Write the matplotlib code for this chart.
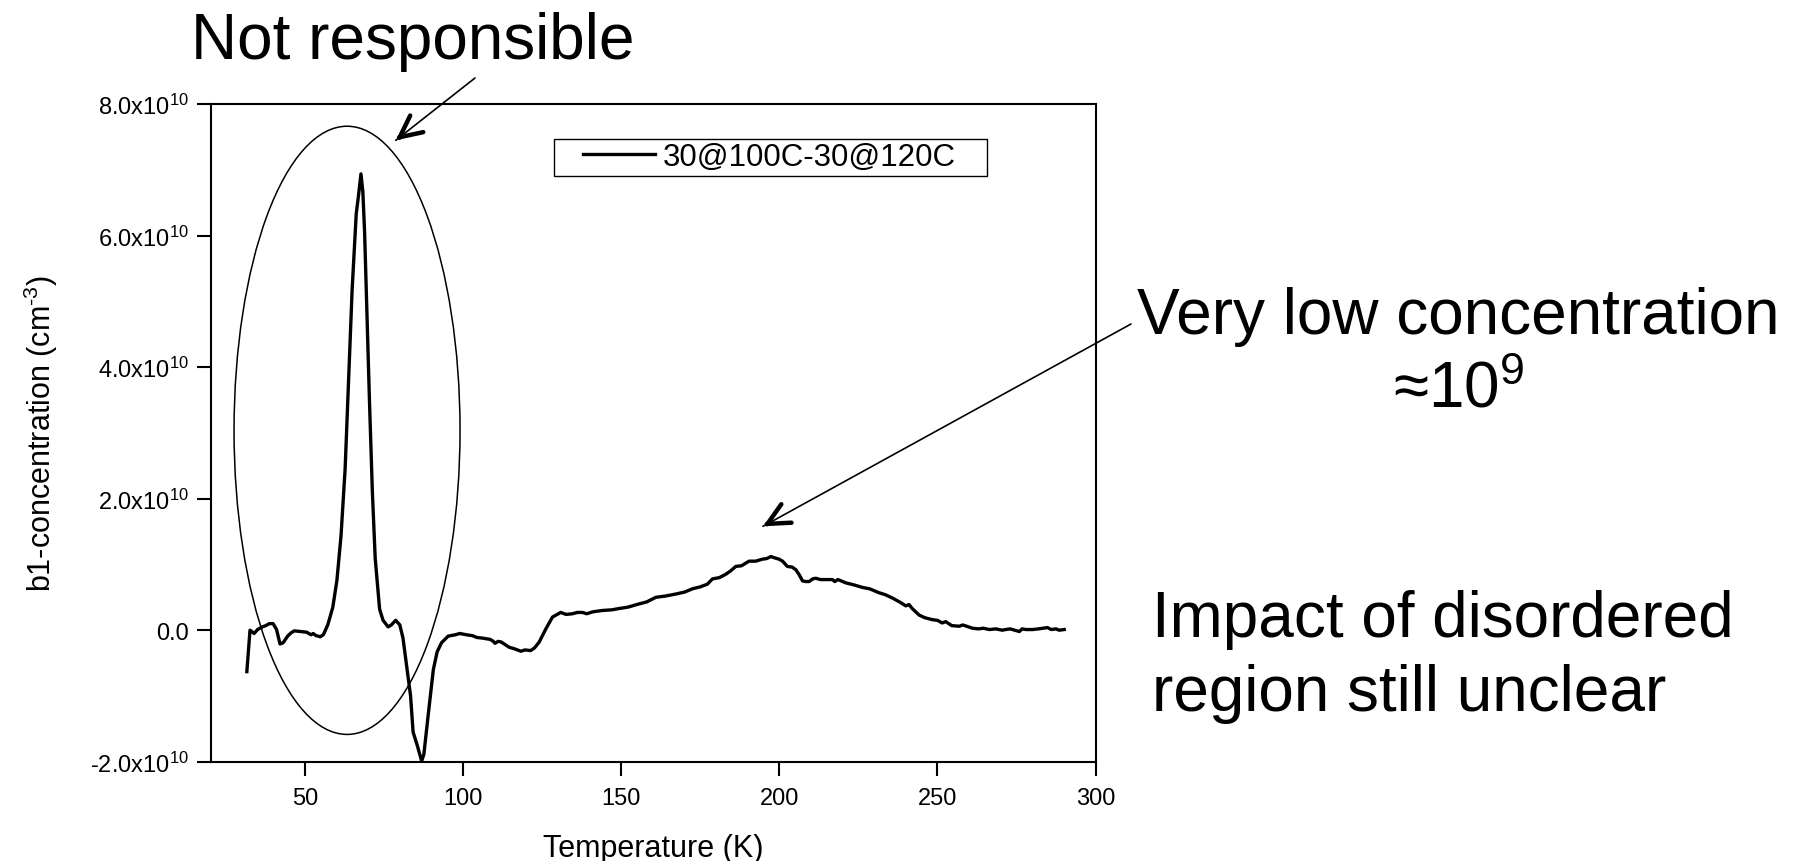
import numpy as np
import matplotlib
matplotlib.use("Agg")
import matplotlib.pyplot as plt
from matplotlib.patches import Ellipse, Rectangle
from matplotlib.ticker import FuncFormatter, FixedLocator

plt.rcParams['font.family'] = ['Liberation Sans', 'DejaVu Sans']
plt.rcParams['mathtext.fontset'] = 'custom'
plt.rcParams['mathtext.rm'] = 'Liberation Sans'
plt.rcParams['mathtext.it'] = 'Liberation Sans:italic'
plt.rcParams['mathtext.bf'] = 'Liberation Sans:bold'
plt.rcParams['mathtext.default'] = 'regular'

# ---- data (temperature in K, concentration in units of 1e10 cm^-3) ----
temperature = [31.5, 32.5, 33.8, 34.9, 36.4, 37.5, 38.6, 39.8, 40.9, 42.0, 43.0, 44.4, 45.5, 46.5,
               48.6, 50.4, 51.8, 52.5, 53.3, 54.7, 55.7, 57.1, 58.7, 60.0, 61.3, 62.6, 63.7, 64.8,
               66.1, 66.8, 67.6, 68.2, 68.75, 69.5, 70.3, 71.2, 72.1, 73.5, 74.6, 76.2, 77.2, 78.6,
               79.9, 80.9, 82.2, 83.3, 84.1, 85.4, 86.8, 87.5, 88.9, 90.5, 91.7, 93.1, 95.2, 97.4,
               98.9, 100.0, 101.0, 102.9, 104.2, 106.0, 108.5, 109.5, 110.0, 111.0, 112.0, 114.5,
               116.0, 118.2, 119.5, 121.3, 122.5, 124.0, 126.1, 128.2, 130.8, 132.5, 134.5, 136.0,
               137.7, 139.0, 141.0, 144.0, 147.0, 149.3, 152.0, 155.6, 158.0, 160.9, 164.0, 167.2,
               170.0, 172.5, 175.0, 177.2, 178.8, 181.0, 183.0, 184.5, 186.2, 188.0, 190.4, 192.5,
               194.6, 196.0, 197.3, 198.5, 199.9, 201.0, 202.5, 204.0, 205.2, 206.3, 207.3, 208.3,
               209.4, 210.5, 211.5, 213.0, 215.0, 216.8, 217.5, 218.5, 221.0, 223.5, 226.3, 228.5,
               231.5, 233.5, 235.7, 238.0, 240.0, 241.0, 242.0, 244.2, 246.0, 248.4, 250.0, 251.5,
               252.6, 254.5, 256.9, 258.0, 261.1, 263.0, 264.5, 266.4, 268.5, 270.5, 271.6, 273.0,
               275.9, 276.8, 278.0, 280.1, 282.0, 284.8, 286.0, 287.5, 288.5, 290.1]
concentration_e10 = [-0.63, 0.00, -0.05, 0.01, 0.05, 0.07, 0.10, 0.10, 0.01, -0.21, -0.19, -0.09, -0.04, -0.01,
                     -0.02, -0.03, -0.07, -0.05, -0.08, -0.10, -0.07, 0.08, 0.35, 0.76, 1.44, 2.46, 3.82, 5.17,
                     6.33, 6.60, 6.94, 6.67, 6.06, 4.83, 3.48, 2.12, 1.10, 0.32, 0.15, 0.05, 0.08, 0.15,
                     0.08, -0.12, -0.60, -1.00, -1.55, -1.75, -1.99, -1.89, -1.28, -0.60, -0.33, -0.19, -0.09, -0.07,
                     -0.05, -0.06, -0.07, -0.083, -0.11, -0.12, -0.14, -0.17, -0.20, -0.17, -0.18, -0.26,
                     -0.28, -0.32, -0.30, -0.31, -0.27, -0.18, 0.02, 0.20, 0.27, 0.24, 0.25, 0.27,
                     0.27, 0.25, 0.28, 0.30, 0.31, 0.33, 0.35, 0.40, 0.43, 0.50, 0.52, 0.55,
                     0.58, 0.63, 0.66, 0.70, 0.78, 0.80, 0.85, 0.90, 0.97, 0.98, 1.05, 1.05,
                     1.08, 1.09, 1.12, 1.10, 1.08, 1.05, 0.97, 0.96, 0.92, 0.84, 0.75, 0.74,
                     0.74, 0.78, 0.79, 0.77, 0.77, 0.77, 0.74, 0.77, 0.72, 0.69, 0.65, 0.63,
                     0.57, 0.54, 0.49, 0.43, 0.37, 0.39, 0.33, 0.23, 0.19, 0.16, 0.15, 0.11,
                     0.13, 0.07, 0.06, 0.08, 0.03, 0.02, 0.03, 0.01, 0.02, 0.00, 0.01, 0.02,
                     -0.02, 0.02, 0.01, 0.01, 0.02, 0.04, 0.01, 0.02, 0.00, 0.01]
series_label = "30@100C-30@120C"
x_ticks = [50, 100, 150, 200, 250, 300]
y_ticks = [-2e10, 0, 2e10, 4e10, 6e10, 8e10]

W, H, DPI = 1793, 862, 100
fig = plt.figure(figsize=(W / DPI, H / DPI), dpi=DPI)
L, R, T, B = 210.5, 1095.5, 105.2, 762.7
ax = fig.add_axes([L / W, 1 - B / H, (R - L) / W, (B - T) / H])

conc = np.array(concentration_e10) * 1e10
line, = ax.plot(temperature, conc, color='black', lw=2.4, label=series_label)

ax.set_xlim(20, 300)
ax.set_ylim(-2e10, 8e10)
ax.xaxis.set_major_locator(FixedLocator(x_ticks))
ax.yaxis.set_major_locator(FixedLocator(y_ticks))

def yfmt(v, pos):
    if abs(v) < 1:
        return "0.0"
    return f"{v / 1e10:.1f}x10$^{{10}}$"
ax.yaxis.set_major_formatter(FuncFormatter(yfmt))

for s in ax.spines.values():
    s.set_linewidth(1.5)
ax.tick_params(direction='out', length=10, width=1.5, labelsize=17,
               top=False, right=False)
ax.tick_params(axis='x', pad=8.5)
ax.tick_params(axis='y', pad=5.5)
ax.set_xlabel("Temperature (K)", fontsize=22, labelpad=17)
ax.set_ylabel("b1-concentration (cm$^{\u2010 3}$)".replace("\u2010 ", "\u2010"), fontsize=22)
ax.yaxis.set_label_coords(-0.17, 0.5)

# ellipse around the peak
ell = Ellipse((63.2, 3.04e10), 71.5, 9.25e10, fill=False, edgecolor='black', lw=1.1, zorder=3)
ax.add_patch(ell)

# legend with square box
leg = ax.legend(handles=[line], loc='center left', bbox_to_anchor=(583 / W, 1 - 158.3 / H),
                bbox_transform=fig.transFigure, frameon=False, fontsize=22.5,
                handlelength=2.3, handletextpad=0.25, borderpad=0, borderaxespad=0)
fig.add_artist(Rectangle((554 / W, 1 - 176.7 / H), (987 - 554) / W, (176.7 - 139.5) / H,
                         transform=fig.transFigure, fill=False, edgecolor='black', lw=1.0))

# arrows
def arrow(tip, tail_px):
    ax.annotate('', xy=tip, xycoords='data', xytext=(tail_px[0], H - tail_px[1]),
                textcoords='figure pixels',
                arrowprops=dict(arrowstyle='-', lw=1.2, color='black', shrinkA=0, shrinkB=0))
    tip_disp = ax.transData.transform(tip)
    tail_disp = np.array([tail_px[0], H - tail_px[1]])
    u = tail_disp - tip_disp
    u = u / np.hypot(*u)
    start = tip_disp + u * 6
    ax.annotate('', xy=tip, xycoords='data', xytext=start, textcoords='figure pixels',
                arrowprops=dict(arrowstyle='->,head_length=0.78,head_width=0.38', lw=3.2,
                                color='black', shrinkA=0, shrinkB=0, mutation_scale=20))

arrow((78.6, 7.45e10), (475, 79))
arrow((194.8, 1.58e10), (1131, 325))

# texts
fig.text(191 / W, 1 - 59.5 / H, "Not responsible", fontsize=46, ha='left', va='baseline')
fig.text(1458.5 / W, 1 - 334 / H, "Very low concentration", fontsize=46, ha='center', va='baseline')
fig.text(1458.5 / W, 1 - 408 / H, "≈10$^{9}$", fontsize=46, ha='center', va='baseline')
fig.text(1151.5 / W, 1 - 637 / H, "Impact of disordered", fontsize=46, ha='left', va='baseline')
fig.text(1151.5 / W, 1 - 711 / H, "region still unclear", fontsize=46, ha='left', va='baseline')

fig.savefig("out.png", dpi=DPI)
